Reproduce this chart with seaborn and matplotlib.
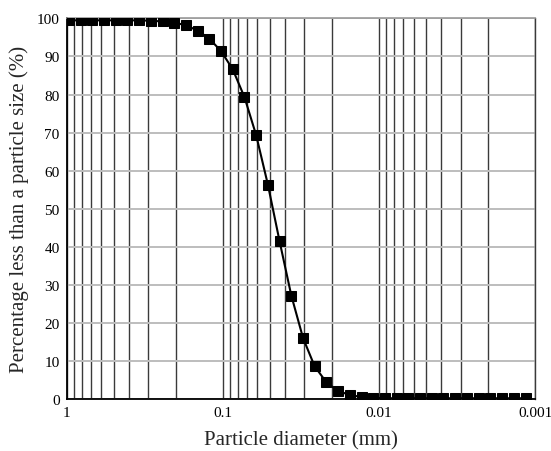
import matplotlib
matplotlib.use("Agg")
import matplotlib.pyplot as plt
import seaborn as sns
import numpy as np
import pandas as pd
from matplotlib.ticker import FixedLocator, NullFormatter

# Data
diameter_mm = [0.967, 0.813, 0.684, 0.576, 0.485, 0.408, 0.343, 0.289, 0.243, 0.204,
               0.172, 0.145, 0.122, 0.1025, 0.0863, 0.0726, 0.0611, 0.0514, 0.0433, 0.0364,
               0.0306, 0.0258, 0.0217, 0.0183, 0.0154, 0.0129, 0.0109, 0.00915, 0.0077, 0.00648,
               0.00546, 0.00459, 0.00386, 0.00325, 0.00274, 0.0023, 0.00194, 0.00163, 0.00137, 0.00115]
percent_finer = [99.5, 99.5, 99.5, 99.5, 99.5, 99.5, 99.5, 99.4, 99.2, 98.9,
                 98.2, 96.8, 94.7, 91.4, 86.6, 79.3, 69.3, 56.3, 41.5, 27.2,
                 16.0, 8.6, 4.4, 2.1, 1.1, 0.5, 0.3, 0.2, 0.2, 0.2,
                 0.2, 0.2, 0.2, 0.2, 0.2, 0.2, 0.2, 0.2, 0.2, 0.2]
x_major_ticks = [1, 0.1, 0.01, 0.001]
x_tick_labels = ["1", "0.1", "0.01", "0.001"]
y_ticks = [0, 10, 20, 30, 40, 50, 60, 70, 80, 90, 100]

sns.set_style("white")
plt.rcParams['font.family'] = ['Liberation Serif', 'DejaVu Serif']

df = pd.DataFrame({"d": diameter_mm, "p": percent_finer})

fig = plt.figure(figsize=(5.51, 4.52), dpi=100)
ax = fig.add_axes([0.121, 0.115, 0.850, 0.842])

ax.set_xscale("log")
ax.set_xlim(1, 0.001)
ax.set_ylim(0, 100)

# minor vertical grid lines (2..9 per decade) plus decades
minor = []
for dec in [0.1, 0.01, 0.001]:
    for k in range(2, 10):
        minor.append(k * dec)
ax.xaxis.set_major_locator(FixedLocator(x_major_ticks))
ax.xaxis.set_minor_locator(FixedLocator(minor))
ax.xaxis.set_minor_formatter(NullFormatter())
ax.set_xticklabels(x_tick_labels)
ax.set_yticks(y_ticks)

ax.grid(True, axis="y", color="#bdbdbd", linewidth=1.4, zorder=0)
ax.grid(True, axis="x", which="both", color="#3a3a3a", linewidth=1.0, zorder=0)
ax.set_axisbelow(True)

sns.lineplot(data=df, x="d", y="p", ax=ax, color="black", linewidth=1.5,
             marker="s", markersize=6.5, markeredgecolor="black",
             markerfacecolor="black", sort=False, zorder=3)

for side in ["left", "bottom"]:
    ax.spines[side].set_color("black")
    ax.spines[side].set_linewidth(1.3)
ax.spines["top"].set_color("#9a9a9a")
ax.spines["top"].set_linewidth(1.2)
ax.spines["right"].set_color("#3a3a3a")
ax.spines["right"].set_linewidth(1.0)

ax.tick_params(axis="both", which="both", length=0, labelsize=11, pad=5,
               colors="black")
ax.set_xlabel("Particle diameter (mm)", fontsize=15, labelpad=8)
ax.set_ylabel("Percentage less than a particle size (%)", fontsize=15, labelpad=6)

fig.savefig("out.png", dpi=100)
